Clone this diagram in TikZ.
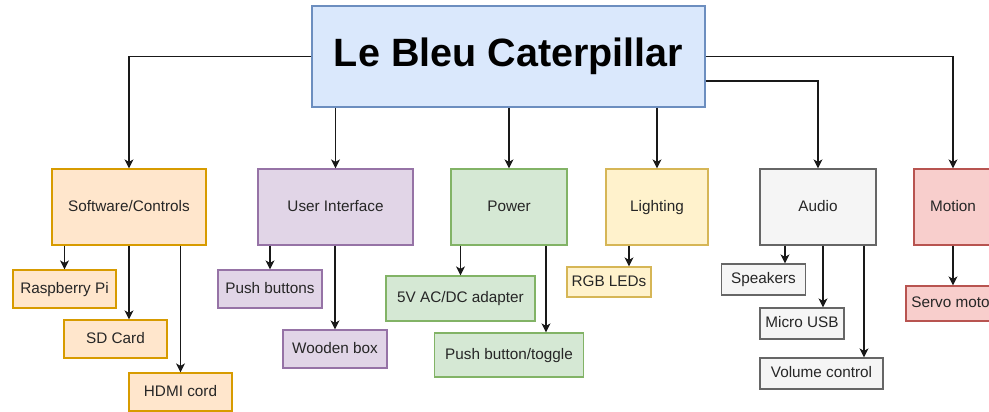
\documentclass[tikz,border=0pt]{standalone}
\usepackage{fontspec}
\setmainfont{Liberation Sans}
\usetikzlibrary{arrows.meta}
\definecolor{bluefill}{HTML}{DAE8FC}\definecolor{blueline}{HTML}{6C8EBF}
\definecolor{orangefill}{HTML}{FFE6CC}\definecolor{orangeline}{HTML}{D79B00}
\definecolor{purplefill}{HTML}{E1D5E7}\definecolor{purpleline}{HTML}{9673A6}
\definecolor{greenfill}{HTML}{D5E8D4}\definecolor{greenline}{HTML}{82B366}
\definecolor{yellowfill}{HTML}{FFF2CC}\definecolor{yellowline}{HTML}{D6B656}
\definecolor{grayfill}{HTML}{F5F5F5}\definecolor{grayline}{HTML}{666666}
\definecolor{redfill}{HTML}{F8CECC}\definecolor{redline}{HTML}{B85450}
\tikzset{
box/.style={draw,line width=1.2pt,align=center,inner sep=2pt,text height=11pt,text depth=3pt,text=black!85,font=\fontsize{15.3}{18}\selectfont},
rootbox/.style={box,fill=bluefill,draw=blueline,text=black,text height=28pt,text depth=8pt,minimum width=393pt,minimum height=101pt,font=\fontsize{39.5}{44}\selectfont\bfseries},
category/.style={minimum height=76pt},
swbox/.style={box,fill=orangefill,draw=orangeline},
uibox/.style={box,fill=purplefill,draw=purpleline},
pwbox/.style={box,fill=greenfill,draw=greenline},
libox/.style={box,fill=yellowfill,draw=yellowline},
aubox/.style={box,fill=grayfill,draw=grayline},
mobox/.style={box,fill=redfill,draw=redline},
flow/.style={-{Stealth[length=9pt,width=9pt,inset=2.5pt]},line width=1.3pt,draw=black!90}
}
\begin{document}
\begin{tikzpicture}[x=1pt,y=-1pt]
\useasboundingbox[fill=white] (0,0) rectangle (989,412);
\node[rootbox] (bleu) at (508.5,56.5) {Le Bleu Caterpillar};
% categories
\node[swbox,category,minimum width=154pt] (soft) at (129,207) {Software/Controls};
\node[uibox,category,minimum width=155pt] (ui) at (335.5,207) {User Interface};
\node[pwbox,category,minimum width=116pt] (power) at (509,207) {Power};
\node[libox,category,minimum width=102pt] (light) at (657,207) {Lighting};
\node[aubox,category,minimum width=116pt] (audio) at (818,207) {Audio};
\node[mobox,category,minimum width=78pt] (motion) at (953,207) {Motion};
% parts
\node[swbox,minimum width=103pt,minimum height=38pt] (rpi) at (64.5,289) {Raspberry Pi};
\node[swbox,minimum width=103pt,minimum height=38pt] (sd) at (115.5,339) {SD Card};
\node[swbox,minimum width=103pt,minimum height=38pt] (hdmi) at (180.5,392) {HDMI cord};
\node[uibox,minimum width=104pt,minimum height=38pt] (pushb) at (270,289) {Push buttons};
\node[uibox,minimum width=104pt,minimum height=38pt] (wood) at (335,349) {Wooden box};
\node[pwbox,minimum width=149pt,minimum height=45pt] (adapter) at (460.5,298.5) {5V AC/DC adapter};
\node[pwbox,minimum width=149pt,minimum height=44pt] (toggle) at (509,355) {Push button/toggle};
\node[libox,minimum width=84pt,minimum height=30pt] (rgb) at (609,282) {RGB LEDs};
\node[aubox,minimum width=84pt,minimum height=31pt] (speak) at (763.5,279.5) {Speakers};
\node[aubox,minimum width=84pt,minimum height=31pt] (usb) at (802,323.5) {Micro USB};
\node[aubox,minimum width=123pt,minimum height=31pt] (volume) at (821.5,373.5) {Volume control};
\node[mobox,minimum width=94pt,minimum height=35pt] (servo) at (953,303.5) {Servo motor};
% root to categories
\draw[flow] (bleu.west) -| (soft.north);
\draw[flow] (bleu.south -| ui.north) -- (ui.north);
\draw[flow] (bleu.south -| power.north) -- (power.north);
\draw[flow] (bleu.south -| light.north) -- (light.north);
\draw[flow] ([yshift=-24.5pt]bleu.east) -| (audio.north);
\draw[flow] (bleu.east) -| (motion.north);
% categories to parts
\draw[flow] (soft.south -| rpi.north) -- (rpi.north);
\draw[flow] (soft.south) -- (soft.south |- sd.north);
\draw[flow] (soft.south -| hdmi.north) -- (hdmi.north);
\draw[flow] (ui.south -| pushb.north) -- (pushb.north);
\draw[flow] (ui.south -| wood.north) -- (wood.north);
\draw[flow] (power.south -| adapter.north) -- (adapter.north);
\draw[flow] ([xshift=37pt]power.south) -- ([xshift=37pt]toggle.north);
\draw[flow] ([xshift=-28pt]light.south) -- ([xshift=20pt]rgb.north);
\draw[flow] ([xshift=-33pt]audio.south) -- ([xshift=21.5pt]speak.north);
\draw[flow] ([xshift=5pt]audio.south) -- ([xshift=21pt]usb.north);
\draw[flow] ([xshift=46pt]audio.south) -- ([xshift=42.5pt]volume.north);
\draw[flow] (motion.south) -- (servo.north);
\end{tikzpicture}
\end{document}
